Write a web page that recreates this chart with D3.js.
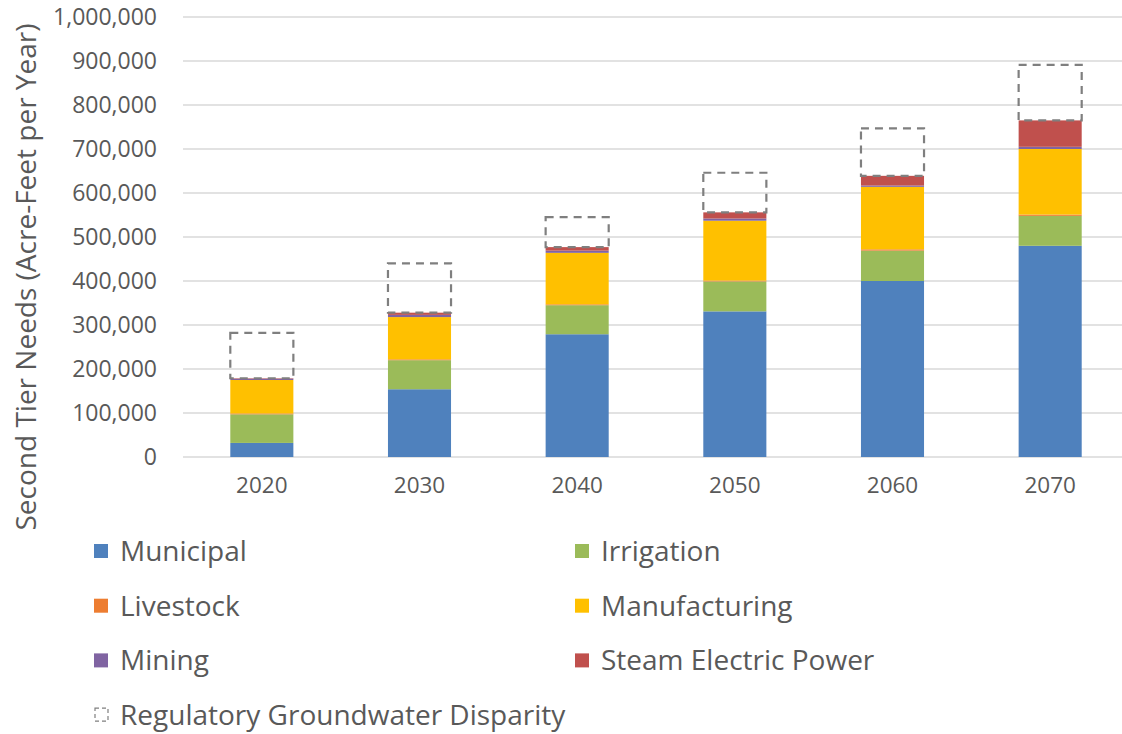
<!DOCTYPE html>
<html>
<head>
<meta charset="utf-8">
<script src="https://cdn.jsdelivr.net/npm/d3@7"></script>
<style>
  html, body { margin: 0; padding: 0; background: #fff; }
  svg { display: block; font-family: "Open Sans", "Noto Sans", sans-serif; }
</style>
</head>
<body>
<svg id="chart" width="1122" height="734"></svg>
<script>
// Second tier water needs by use category (acre-feet per year)
const years = ["2020", "2030", "2040", "2050", "2060", "2070"];
const municipal     = [32000, 154000, 279000, 331000, 400000, 480000];
const irrigation    = [65000, 66000, 66000, 68000, 69000, 68000];
const livestock     = [2000, 2000, 2000, 2000, 3000, 3000];
const manufacturing = [76000, 96000, 117000, 136000, 142000, 149000];
const mining        = [3000, 5000, 5000, 5000, 3000, 5000];
const steamElectric = [1000, 5000, 8000, 14000, 22000, 60000];
const disparity     = [103000, 112000, 68000, 90000, 108000, 126000];
const yTicks = [0, 100000, 200000, 300000, 400000, 500000, 600000, 700000, 800000, 900000, 1000000];

const seriesNames = ["Municipal", "Irrigation", "Livestock", "Manufacturing", "Mining", "Steam Electric Power"];
const seriesColors = ["#4f81bd", "#9bbb59", "#ed7d31", "#ffc000", "#8064a2", "#c0504d"];
const seriesValues = [municipal, irrigation, livestock, manufacturing, mining, steamElectric];

const rows = years.map((y, i) => {
  const r = { year: y };
  seriesNames.forEach((n, k) => { r[n] = seriesValues[k][i]; });
  return r;
});

const svg = d3.select("#chart");
const textColor = "#595959";
const fontStack = '"Open Sans", "Noto Sans", sans-serif';

const x = d3.scaleBand().domain(years).range([183, 1129]).paddingInner(0.6).paddingOuter(0.3);
const y = d3.scaleLinear().domain([0, 1000000]).range([457, 17]);

// gridlines
svg.append("g").selectAll("line").data(yTicks).join("line")
  .attr("x1", 183).attr("x2", 1122)
  .attr("y1", d => y(d)).attr("y2", d => y(d))
  .attr("stroke", "#d9d9d9").attr("stroke-width", 1.3);

// y axis labels
const yAxis = d3.axisLeft(y).tickValues(yTicks).tickFormat(d3.format(",")).tickSize(0).tickPadding(0);
const gy = svg.append("g").attr("transform", "translate(157,0)").call(yAxis)
  .attr("font-family", fontStack).attr("font-size", 23);
gy.select(".domain").remove();
gy.selectAll("text").attr("fill", textColor);

// x axis labels
const xAxis = d3.axisBottom(x).tickSize(0).tickPadding(0);
const gx = svg.append("g").attr("transform", "translate(0,477)").call(xAxis)
  .attr("font-family", fontStack).attr("font-size", 22.5);
gx.select(".domain").remove();
gx.selectAll("text").attr("fill", textColor);

// stacked bars
const stack = d3.stack().keys(seriesNames);
const stacked = stack(rows);
const color = d3.scaleOrdinal().domain(seriesNames).range(seriesColors);

svg.append("g").selectAll("g").data(stacked).join("g")
  .attr("fill", d => color(d.key))
  .selectAll("rect").data(d => d).join("rect")
  .attr("x", d => x(d.data.year))
  .attr("width", x.bandwidth())
  .attr("y", d => y(d[1]))
  .attr("height", d => y(d[0]) - y(d[1]));

// regulatory groundwater disparity as dashed outline above each stack
const totals = rows.map(r => seriesNames.reduce((s, n) => s + r[n], 0));
svg.append("g").selectAll("rect").data(years).join("rect")
  .attr("x", d => x(d))
  .attr("width", x.bandwidth())
  .attr("y", (d, i) => y(totals[i] + disparity[i]))
  .attr("height", (d, i) => y(totals[i]) - y(totals[i] + disparity[i]))
  .attr("fill", "none")
  .attr("stroke", "#7f7f7f")
  .attr("stroke-width", 2.2)
  .attr("stroke-dasharray", "8,6");

// y axis title
svg.append("text")
  .attr("transform", "translate(36,277) rotate(-90)")
  .attr("text-anchor", "middle")
  .attr("fill", textColor)
  .style("font-size", "28px")
  .text("Second Tier Needs (Acre-Feet per Year)");

// legend
const legendItems = seriesNames.map((n, i) => ({ name: n, color: seriesColors[i] }));
const legend = svg.append("g");
legendItems.forEach((d, i) => {
  const col = i % 2, row = Math.floor(i / 2);
  const lx = col === 0 ? 94 : 575;
  const ly = 551 + row * 54.7;
  legend.append("rect").attr("x", lx).attr("y", ly - 7).attr("width", 14).attr("height", 14).attr("fill", d.color);
  legend.append("text").attr("x", lx + 26).attr("y", ly).attr("dy", "0.36em")
    .attr("fill", textColor).style("font-size", "28px").text(d.name);
});
const ly4 = 551 + 3 * 54.7;
legend.append("rect").attr("x", 95).attr("y", ly4 - 7).attr("width", 13).attr("height", 13)
  .attr("fill", "none").attr("stroke", "#7f7f7f").attr("stroke-width", 1.2).attr("stroke-dasharray", "4,3");
legend.append("text").attr("x", 120).attr("y", ly4).attr("dy", "0.36em")
  .attr("fill", textColor).style("font-size", "28px").text("Regulatory Groundwater Disparity");
</script>
</body>
</html>
